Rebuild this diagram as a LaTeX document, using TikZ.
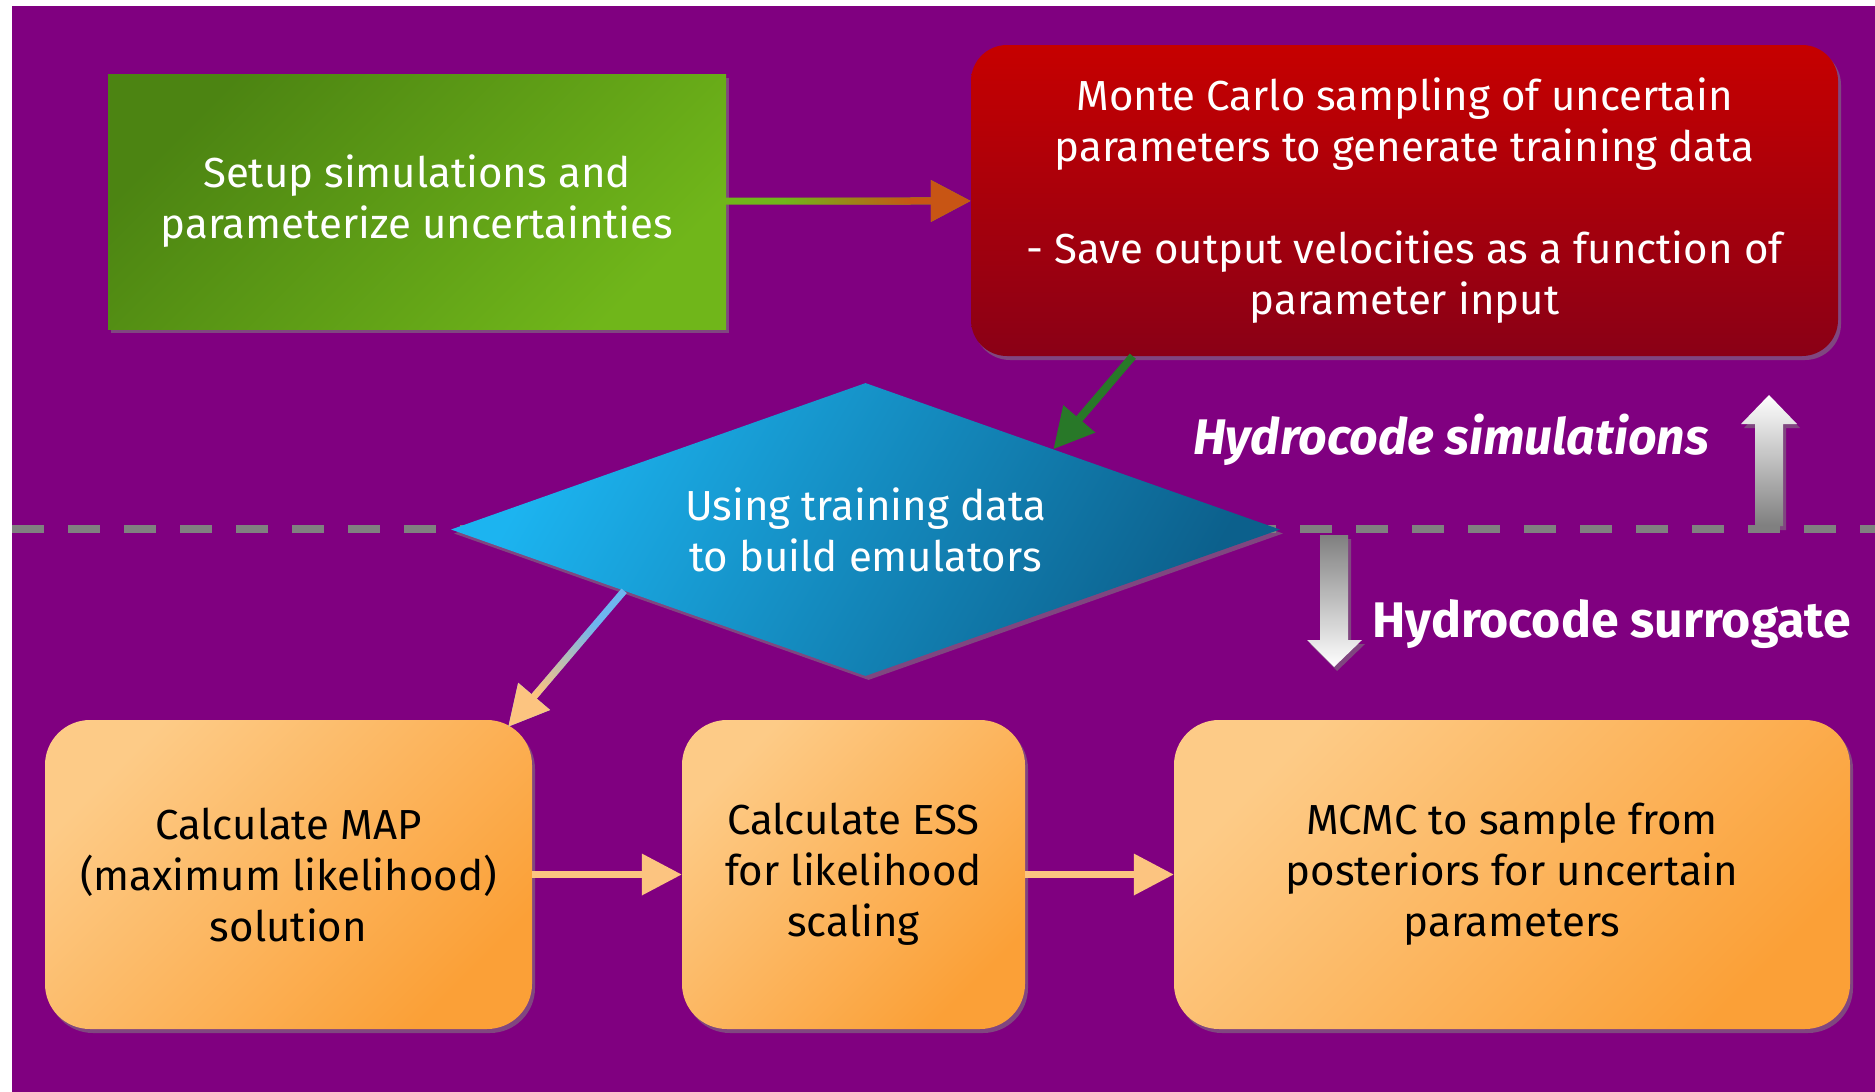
\documentclass[tikz,border=0pt]{standalone}
\usepackage{fontspec}
\setmainfont{Fira Sans}
\usetikzlibrary{shapes.geometric,arrows.meta,shadows,fadings,calc}

\definecolor{hydbg}{RGB}{128,0,128}
\definecolor{hydgreenA}{RGB}{76,132,18}
\definecolor{hydgreenB}{RGB}{112,182,26}
\definecolor{hydtip}{RGB}{200,85,20}
\definecolor{hydredA}{RGB}{198,0,0}
\definecolor{hydredB}{RGB}{138,0,22}
\definecolor{hydblueA}{RGB}{28,180,240}
\definecolor{hydblueB}{RGB}{12,96,140}
\definecolor{hydsky}{RGB}{110,182,240}
\definecolor{hydorA}{RGB}{253,203,135}
\definecolor{hydorB}{RGB}{251,160,55}
\definecolor{hydpeach}{RGB}{252,196,128}
\definecolor{hydlink}{RGB}{40,120,40}
\definecolor{hyddash}{RGB}{128,128,128}

\tikzfading[name=tipfade,left color=transparent!100,right color=transparent!0]
\newcommand{\hydsize}{\fontsize{42}{51}\selectfont}
\newcommand{\hydbig}{\fontsize{50}{60}\selectfont}

\begin{document}
\begin{tikzpicture}[x=1pt,y=-1pt,font=\hydsize,
  boxshadow/.style={drop shadow={shadow xshift=3pt,shadow yshift=-4pt,opacity=.55}},
  stepbox/.style={rectangle,rounded corners=45pt,inner sep=0pt,align=center,boxshadow,
    top color=hydorA,bottom color=hydorB,shading angle=45,minimum height=309pt},
  link/.style={line width=7pt,-{Triangle[length=40pt,width=40pt]}},
  lbl/.style={text=white,inner sep=0pt},
]
\path[use as bounding box] (0,0) rectangle (1875,1092);
\fill[hydbg] (12,6) rectangle (1875,1092);
\draw[hyddash,line width=8pt,dash pattern=on 32pt off 24pt] (12,529) -- (1875,529);

% upper half
\node[rectangle,minimum width=618pt,minimum height=255pt,inner sep=0pt,boxshadow,
  top color=hydgreenA,bottom color=hydgreenB,shading angle=45,text=white,align=center]
  (setup) at (417,201.5) {Setup simulations and\\parameterize uncertainties};
\node[rectangle,rounded corners=36pt,minimum width=867pt,minimum height=311pt,inner sep=0pt,boxshadow,
  top color=hydredA,bottom color=hydredB,text=white,align=center]
  (mc) at (1404.5,200.5) {Monte Carlo sampling of uncertain\\parameters to generate training data\\[51pt]- Save output velocities as a function of\\parameter input};
\node[diamond,aspect=2.83,minimum width=829pt,minimum height=293pt,inner sep=0pt,boxshadow,
  top color=hydblueA,bottom color=hydblueB,shading angle=60,text=white,align=center]
  (emu) at (865.5,529.5) {Using training data\\to build emulators};

% lower half
\node[stepbox,minimum width=487pt] (map) at (288.5,874.5) {Calculate MAP\\(maximum likelihood)\\solution};
\node[stepbox,minimum width=343pt] (ess) at (853.5,874.5) {Calculate ESS\\for likelihood\\scaling};
\node[stepbox,minimum width=676pt] (mcmc) at (1512,874.5) {MCMC to sample from\\posteriors for uncertain\\parameters};

\node[lbl,font=\hydbig\bfseries\itshape] (simlbl) at (1451,440) {Hydrocode simulations};
\node[lbl,font=\hydbig\bfseries] (surlbl) at (1611.5,624) {Hydrocode surrogate};

% connectors
\draw[link,hydgreenB] (setup) -- (mc);
\draw[link,hydtip,path fading=tipfade,fit fading=false,
  fading transform={shift={($(setup.east)!.5!(mc.west)$)},xscale=2.5}] (setup) -- (mc);
\draw[link,hydlink,line width=8pt] ([xshift=162pt]mc.south west) -- ($(emu.north)!.453!(emu.east)$);
\draw[link,hydsky] ($(emu.west)!.418!(emu.south)$) -- ([xshift=-24pt,yshift=-7pt]map.north east);
\draw[link,hydpeach,path fading=tipfade,fit fading=false,
  fading transform={shift={($(emu.west)!.418!(emu.south)!.5!([xshift=-24pt,yshift=-7pt]map.north east)$)},rotate=229,xscale=1.8}]
  ($(emu.west)!.418!(emu.south)$) -- ([xshift=-24pt,yshift=-7pt]map.north east);
\draw[link,hydpeach] (map) -- (ess);
\draw[link,hydpeach] (ess) -- (mcmc);

% white block arrows
\shade[top color=white,bottom color=gray,boxshadow]
  (1769,395) -- (1797,424) -- (1783,424) -- (1783,526) -- (1755,526) -- (1755,424) -- (1741,424) -- cycle;
\shade[top color=gray,bottom color=white,boxshadow]
  (1320,535) -- (1348,535) -- (1348,640) -- (1362,640) -- (1334,667) -- (1307,640) -- (1320,640) -- cycle;
\end{tikzpicture}
\end{document}
